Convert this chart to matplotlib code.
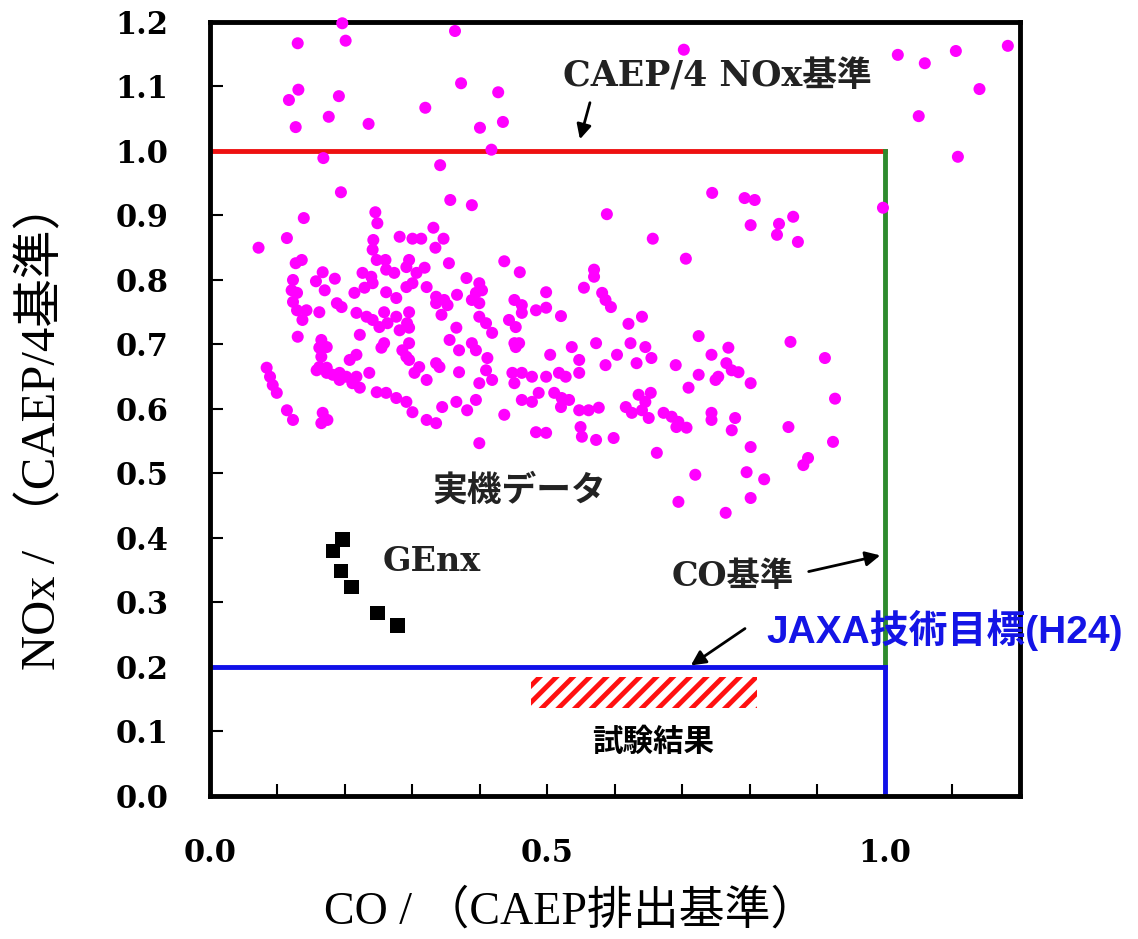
import numpy as np
import matplotlib
matplotlib.use('Agg')
import matplotlib.pyplot as plt

# engine data (CO / CAEP standard, NOx / CAEP/4 standard)
engine_co = [
    0.196, 0.130, 0.201, 0.363, 0.131, 0.117, 0.191, 0.372, 0.427, 0.319,
    0.176, 0.127, 0.235, 0.400, 0.434, 0.417, 0.702, 1.019, 1.059, 1.105,
    1.182, 1.140, 1.050, 1.108, 0.997, 0.168, 0.341, 0.194, 0.356, 0.388,
    0.139, 0.114, 0.588, 0.245, 0.248, 0.242, 0.281, 0.300, 0.313, 0.331,
    0.346, 0.072, 0.334, 0.744, 0.792, 0.807, 0.656, 0.801, 0.843, 0.864,
    0.840, 0.871, 0.241, 0.136, 0.127, 0.247, 0.260, 0.295, 0.354, 0.436,
    0.459, 0.167, 0.185, 0.157, 0.226, 0.239, 0.261, 0.273, 0.291, 0.306,
    0.318, 0.123, 0.121, 0.129, 0.170, 0.380, 0.399, 0.214, 0.229, 0.241,
    0.261, 0.276, 0.291, 0.300, 0.321, 0.335, 0.347, 0.366, 0.394, 0.399,
    0.388, 0.451, 0.462, 0.483, 0.123, 0.129, 0.143, 0.162, 0.137, 0.188,
    0.195, 0.217, 0.232, 0.258, 0.276, 0.295, 0.292, 0.335, 0.343, 0.352,
    0.399, 0.409, 0.418, 0.443, 0.453, 0.241, 0.251, 0.263, 0.281, 0.365,
    0.355, 0.369, 0.295, 0.130, 0.165, 0.162, 0.173, 0.222, 0.258, 0.254,
    0.295, 0.285, 0.291, 0.388, 0.394, 0.451, 0.458, 0.165, 0.162, 0.173,
    0.217, 0.207, 0.295, 0.310, 0.303, 0.335, 0.340, 0.369, 0.411, 0.409,
    0.418, 0.399, 0.448, 0.462, 0.477, 0.451, 0.084, 0.089, 0.093, 0.099,
    0.158, 0.173, 0.182, 0.192, 0.202, 0.217, 0.192, 0.211, 0.222, 0.236,
    0.247, 0.261, 0.276, 0.291, 0.300, 0.321, 0.344, 0.365, 0.381, 0.394,
    0.462, 0.477, 0.114, 0.123, 0.167, 0.174, 0.165, 0.321, 0.335, 0.436,
    0.399, 0.483, 0.705, 0.569, 0.569, 0.403, 0.498, 0.554, 0.581, 0.586,
    0.594, 0.462, 0.498, 0.520, 0.620, 0.640, 0.453, 0.572, 0.536, 0.623,
    0.645, 0.724, 0.768, 0.860, 0.504, 0.547, 0.603, 0.586, 0.632, 0.654,
    0.743, 0.690, 0.911, 0.498, 0.517, 0.527, 0.547, 0.765, 0.773, 0.783,
    0.753, 0.749, 0.724, 0.801, 0.709, 0.926, 0.487, 0.510, 0.521, 0.532,
    0.520, 0.635, 0.653, 0.645, 0.547, 0.561, 0.576, 0.616, 0.625, 0.640,
    0.650, 0.672, 0.684, 0.694, 0.706, 0.691, 0.743, 0.743, 0.778, 0.773,
    0.498, 0.549, 0.551, 0.572, 0.598, 0.857, 0.923, 0.801, 0.662, 0.886,
    0.879, 0.719, 0.795, 0.821, 0.694, 0.801, 0.764,
]
engine_nox = [
    1.198, 1.167, 1.171, 1.186, 1.095, 1.079, 1.085, 1.105, 1.091, 1.067,
    1.053, 1.037, 1.042, 1.036, 1.045, 1.002, 1.157, 1.149, 1.136, 1.155,
    1.163, 1.096, 1.054, 0.991, 0.912, 0.989, 0.978, 0.936, 0.924, 0.916,
    0.896, 0.865, 0.902, 0.905, 0.888, 0.862, 0.867, 0.864, 0.864, 0.881,
    0.864, 0.850, 0.850, 0.935, 0.927, 0.924, 0.864, 0.885, 0.887, 0.898,
    0.870, 0.859, 0.847, 0.831, 0.826, 0.831, 0.831, 0.831, 0.826, 0.829,
    0.812, 0.812, 0.802, 0.798, 0.811, 0.805, 0.816, 0.811, 0.820, 0.811,
    0.819, 0.800, 0.784, 0.780, 0.784, 0.803, 0.795, 0.780, 0.788, 0.795,
    0.781, 0.772, 0.789, 0.795, 0.789, 0.774, 0.769, 0.777, 0.780, 0.764,
    0.769, 0.769, 0.761, 0.753, 0.766, 0.753, 0.753, 0.750, 0.738, 0.764,
    0.758, 0.749, 0.743, 0.750, 0.743, 0.750, 0.733, 0.764, 0.746, 0.761,
    0.743, 0.733, 0.718, 0.738, 0.727, 0.738, 0.727, 0.733, 0.722, 0.726,
    0.707, 0.691, 0.726, 0.712, 0.707, 0.695, 0.696, 0.715, 0.702, 0.695,
    0.702, 0.691, 0.681, 0.702, 0.691, 0.702, 0.702, 0.681, 0.665, 0.664,
    0.684, 0.676, 0.676, 0.665, 0.656, 0.671, 0.665, 0.657, 0.679, 0.660,
    0.645, 0.640, 0.656, 0.656, 0.650, 0.640, 0.664, 0.650, 0.637, 0.625,
    0.660, 0.656, 0.653, 0.656, 0.650, 0.650, 0.645, 0.640, 0.633, 0.656,
    0.626, 0.625, 0.617, 0.611, 0.595, 0.645, 0.603, 0.611, 0.598, 0.614,
    0.614, 0.611, 0.598, 0.583, 0.594, 0.583, 0.578, 0.583, 0.578, 0.591,
    0.547, 0.564, 0.833, 0.816, 0.805, 0.784, 0.781, 0.788, 0.780, 0.769,
    0.758, 0.749, 0.757, 0.744, 0.732, 0.743, 0.696, 0.702, 0.696, 0.702,
    0.696, 0.713, 0.695, 0.704, 0.684, 0.676, 0.684, 0.668, 0.671, 0.679,
    0.684, 0.668, 0.679, 0.650, 0.656, 0.650, 0.656, 0.671, 0.660, 0.657,
    0.650, 0.645, 0.653, 0.640, 0.633, 0.616, 0.625, 0.625, 0.617, 0.614,
    0.603, 0.622, 0.625, 0.611, 0.598, 0.598, 0.602, 0.603, 0.594, 0.598,
    0.586, 0.594, 0.588, 0.580, 0.571, 0.572, 0.594, 0.583, 0.586, 0.567,
    0.563, 0.572, 0.557, 0.552, 0.555, 0.572, 0.549, 0.541, 0.532, 0.524,
    0.513, 0.498, 0.502, 0.491, 0.456, 0.462, 0.439,
]

# GEnx points
genx_co = [0.196, 0.182, 0.194, 0.210, 0.248, 0.278]
genx_nox = [0.398, 0.380, 0.349, 0.324, 0.284, 0.264]

# standards and the JAXA target
caep4_nox = 1.0
caep_co = 1.0
jaxa_nox = 0.2

# test result band
test_co = [0.476, 0.811]
test_nox = [0.136, 0.184]

y_ticks = np.arange(0, 1.21, 0.1)
y_labels = ['%.1f' % v for v in y_ticks]
x_ticks = np.arange(0, 1.21, 0.1)
x_labels = ['0.0', '', '', '', '', '0.5', '', '', '', '', '1.0', '', '']

SERIF_B = ['DejaVu Serif', 'Noto Sans CJK JP']
SERIF = ['Liberation Serif', 'Noto Sans CJK JP']
SANS = ['Liberation Sans', 'Noto Sans CJK JP']


def drawChart():
    plt.rcParams['hatch.linewidth'] = 3.5
    fig = plt.figure(figsize=(11.38, 9.39), dpi=100)
    ax = fig.add_axes([0.1845, 0.1523, 0.7118, 0.8243])

    # standard lines
    ax.plot([0, caep_co], [caep4_nox, caep4_nox], color='#ee1111', lw=3.5, zorder=2)
    ax.plot([caep_co, caep_co], [jaxa_nox, caep4_nox], color='#2e8b2e', lw=3.5, zorder=2)
    ax.plot([0, caep_co], [jaxa_nox, jaxa_nox], color='#1010e8', lw=3.5, zorder=2)
    ax.plot([caep_co, caep_co], [0, jaxa_nox], color='#1010e8', lw=3.5, zorder=2)

    # test result hatched band
    ax.fill_between(test_co, test_nox[0], test_nox[1], facecolor='white',
                    edgecolor='#ff1010', hatch='//', linewidth=0, zorder=2)

    ax.scatter(engine_co, engine_nox, s=75, color='#ff00ff', edgecolors='none',
               zorder=3, clip_on=False)
    ax.scatter(genx_co, genx_nox, s=110, marker='s', color='black',
               edgecolors='none', zorder=3)

    ax.set_xlim(0, 1.2)
    ax.set_ylim(0, 1.2)
    ax.set_yticks(y_ticks, y_labels, fontsize=22, fontweight='bold', fontfamily='DejaVu Serif')
    ax.set_xticks(x_ticks, x_labels, fontsize=22, fontweight='bold', fontfamily='DejaVu Serif')
    ax.tick_params(direction='in', length=9, width=1.5, pad=30)
    for s in ax.spines.values():
        s.set_linewidth(3.5)
        s.set_color('black')

    # annotations
    ax.text(0.752, 1.115, 'CAEP/4 NOx基準', fontsize=25, fontweight='bold', family=SERIF_B,
            ha='center', va='center', color='#222222')
    ax.annotate('', xy=(0.547, 1.014), xytext=(0.564, 1.079),
                arrowprops=dict(arrowstyle='-|>', color='black', lw=2, mutation_scale=22))
    ax.text(0.458, 0.474, '実機データ', fontsize=25, fontweight='bold',
            family=['Noto Sans CJK JP'], ha='center', va='center', color='#222222')
    ax.text(0.328, 0.363, 'GEnx', fontsize=24, fontweight='bold', family=SERIF_B,
            ha='center', va='center', color='#222222')
    ax.text(0.775, 0.340, 'CO基準', fontsize=24, fontweight='bold', family=SERIF_B,
            ha='center', va='center', color='#222222')
    ax.annotate('', xy=(0.997, 0.374), xytext=(0.883, 0.347),
                arrowprops=dict(arrowstyle='-|>', color='black', lw=2, mutation_scale=22))
    ax.text(0.824, 0.257, 'JAXA技術目標(H24)', fontsize=28, fontweight='bold', family=SANS,
            ha='left', va='center', color='#1414e6')
    ax.annotate('', xy=(0.709, 0.200), xytext=(0.796, 0.262),
                arrowprops=dict(arrowstyle='-|>', color='black', lw=2, mutation_scale=22))
    ax.text(0.657, 0.084, '試験結果', fontsize=22, fontweight='bold',
            family=['Noto Sans CJK JP'], ha='center', va='center', color='black')

    # axis labels
    fig.text(570 / 1138, 1 - 912 / 939, 'CO / （CAEP排出基準）', fontsize=33, family=SERIF,
             ha='center', va='center')
    fig.text(42 / 1138, 1 - 425 / 939, 'NOx / （CAEP/4基準）', fontsize=35, family=SERIF,
             ha='center', va='center', rotation=90)

    plt.savefig('out.png', dpi=100)


def main():
    drawChart()


if __name__ == "__main__":
    main()
